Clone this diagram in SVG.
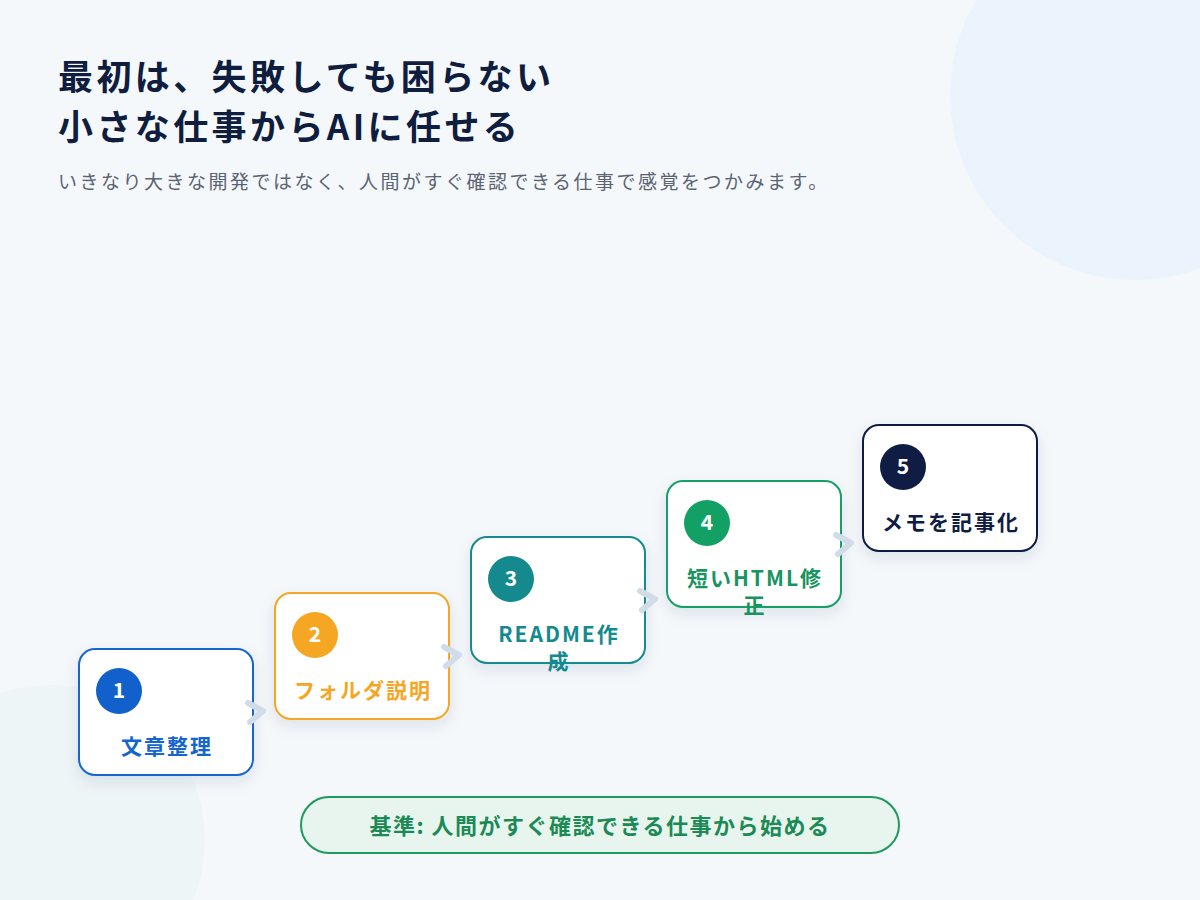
<svg xmlns="http://www.w3.org/2000/svg" width="1200" height="900" viewBox="0 0 1200 900">
<defs>
<filter id="sh" x="-20%" y="-20%" width="140%" height="150%"><feDropShadow dx="0" dy="6" stdDeviation="7" flood-color="#1b2a4a" flood-opacity="0.10"/></filter>
<style>
text{font-family:"Noto Sans CJK JP","Noto Sans",sans-serif;font-weight:700}
.box{fill:#fff;stroke-width:2}
.num{fill:#fff;font-size:21px;text-anchor:middle}
.lbl{font-size:21px;text-anchor:middle;letter-spacing:2px}
.con{fill:none;stroke:#d0dde9;stroke-width:6;stroke-linecap:round;stroke-linejoin:round}
</style>
</defs>
<rect width="1200" height="900" fill="#f5f8fb"/>
<circle cx="1135" cy="95" r="185" fill="#ebf3fd"/>
<circle cx="50" cy="840" r="155" fill="#eef5f6"/>
<text x="58" y="90" font-size="35" letter-spacing="3.4" fill="#0f1d3f">最初は、失敗しても困らない</text>
<text x="58" y="140" font-size="35" letter-spacing="3.4" fill="#0f1d3f">小さな仕事からAIに任せる</text>
<text x="58" y="189" font-size="19" letter-spacing="2.5" fill="#5b6473" style="font-weight:400">いきなり大きな開発ではなく、人間がすぐ確認できる仕事で感覚をつかみます。</text>
<g id="n1"><rect class="box" x="79" y="649" width="174" height="126" rx="16" stroke="#1565d0" filter="url(#sh)"/><circle cx="119" cy="691" r="23" fill="#1160cc"/><text class="num" x="119" y="698">1</text><text class="lbl" x="167" y="754" fill="#1565d0">文章整理</text></g>
<g id="n2"><rect class="box" x="275" y="593" width="174" height="126" rx="16" stroke="#f5a623" filter="url(#sh)"/><circle cx="315" cy="635" r="23" fill="#f5a623"/><text class="num" x="315" y="642">2</text><text class="lbl" x="363" y="698" fill="#f5a623">フォルダ説明</text></g>
<g id="n3"><rect class="box" x="471" y="537" width="174" height="126" rx="16" stroke="#148a8f" filter="url(#sh)"/><circle cx="511" cy="579" r="23" fill="#148a8f"/><text class="num" x="511" y="586">3</text><text class="lbl" x="559" y="642" fill="#148a8f">README作</text><text class="lbl" x="559" y="669" fill="#148a8f">成</text></g>
<g id="n4"><rect class="box" x="667" y="481" width="174" height="126" rx="16" stroke="#17a066" filter="url(#sh)"/><circle cx="707" cy="523" r="23" fill="#12a065"/><text class="num" x="707" y="530">4</text><text class="lbl" x="755" y="586" fill="#17945f">短いHTML修</text><text class="lbl" x="755" y="613" fill="#17945f">正</text></g>
<g id="n5"><rect class="box" x="863" y="425" width="174" height="126" rx="16" stroke="#0f1d45" filter="url(#sh)"/><circle cx="903" cy="467" r="23" fill="#0f1d45"/><text class="num" x="903" y="474">5</text><text class="lbl" x="951" y="530" fill="#0f1d45">メモを記事化</text></g>
<g id="connectors">
<path class="con" d="M248,703 L263,711 L250,722"/>
<path class="con" d="M444,647 L459,655 L446,666"/>
<path class="con" d="M640,591 L655,599 L642,610"/>
<path class="con" d="M836,535 L851,543 L838,554"/>
</g>
<g id="note"><rect x="301" y="797" width="598" height="56" rx="28" fill="#e8f5ee" stroke="#1f9a5e" stroke-width="2"/><text x="600" y="834" font-size="22" letter-spacing="1.5" text-anchor="middle" fill="#1c8a55">基準: 人間がすぐ確認できる仕事から始める</text></g>
</svg>
